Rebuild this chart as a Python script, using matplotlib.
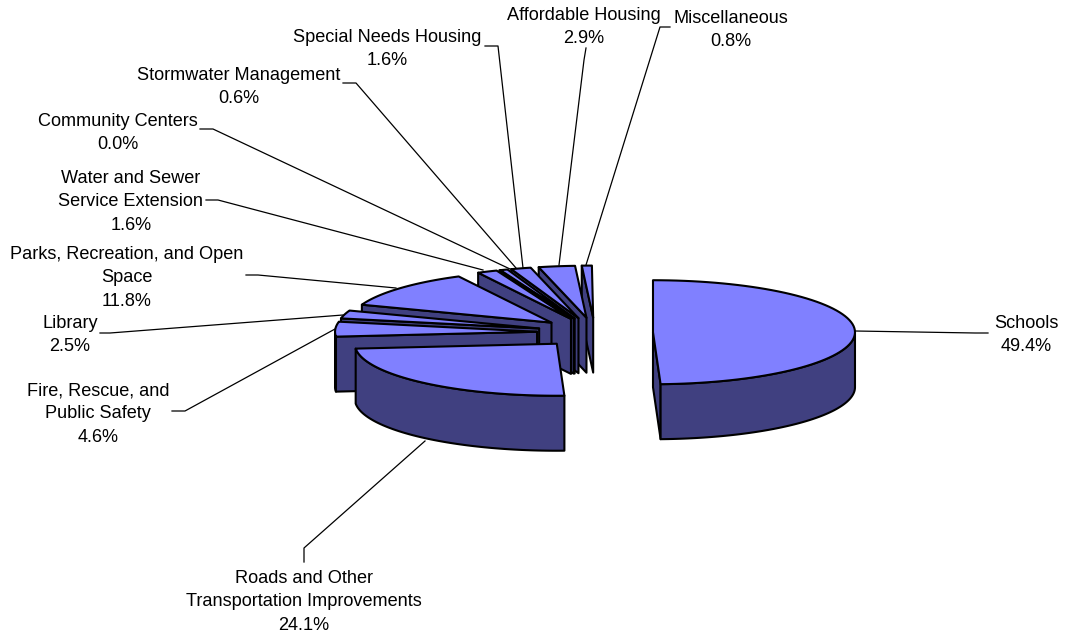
import matplotlib
matplotlib.use('Agg')
import matplotlib.pyplot as plt
from matplotlib.patches import Polygon
import numpy as np

# Slice names and shares, clockwise from 12 o'clock
categories = ['Schools', 'Roads and Other\nTransportation Improvements',
              'Fire, Rescue, and\nPublic Safety', 'Library',
              'Parks, Recreation, and Open\nSpace', 'Water and Sewer\nService Extension',
              'Community Centers', 'Stormwater Management',
              'Special Needs Housing', 'Affordable Housing', 'Miscellaneous']
shares = [49.4, 24.1, 4.6, 2.5, 11.8, 1.6, 0.0, 0.6, 1.6, 2.9, 0.8]

# Label centres and leader lines in picture pixels
label_pos = [(1026, 335), (304, 602), (98, 414), (70, 335), (127, 278), (131, 202),
             (118, 133), (239, 87), (387, 49), (584, 27), (731, 30)]
leaders = [[(855, 331), (975, 333), (988, 333)],
           [(425, 441), (304, 548), (304, 562)],
           [(335, 329), (185, 411), (172, 411)],
           [(343, 315), (110, 333), (100, 333)],
           [(396, 288), (258, 275), (246, 275)],
           [(483, 270), (218, 200), (206, 200)],
           [(510, 269), (213, 129), (200, 129)],
           [(516, 268), (356, 83), (343, 83)],
           [(523, 268), (498, 46), (485, 46)],
           [(559, 265), (584, 60), (586, 48)],
           [(586, 265), (660, 27), (670, 27)]]

top_color = '#8080FF'
side_color = '#404080'
cx, cy = 595, 332.5   # pie centre
rx, ry = 202, 52      # ellipse of the top face
depth = 55
explode = 58

plt.rcParams['font.family'] = ['Liberation Sans', 'DejaVu Sans']
fig = plt.figure(figsize=(10.65, 6.37), dpi=100)
ax = fig.add_axes([0, 0, 1, 1])
ax.set_xlim(0, 1065)
ax.set_ylim(637, 0)
ax.axis('off')


def rim(ox, oy, a):
    return np.column_stack([ox + rx * np.sin(a), oy - ry * np.cos(a)])


def add_face(pts, color):
    ax.add_patch(Polygon(pts, closed=True, facecolor=color, edgecolor='black',
                         linewidth=1.5, joinstyle='round'))


# Turn the shares into angles, then paint slices from back to front
ends = np.cumsum(shares) * 3.6
starts = ends - np.array(shares) * 3.6
mids = (starts + ends) / 2
order = np.argsort(-np.cos(np.radians(mids)))

for i in order:
    a0, a1 = np.radians(starts[i]), np.radians(ends[i])
    ox = cx + explode * np.sin((a0 + a1) / 2)
    oy = cy - explode * ry / rx * np.cos((a0 + a1) / 2)
    arc = rim(ox, oy, np.linspace(a0, a1, 80))
    tip = np.array([[ox, oy]])
    drop = np.array([0, depth])

    # radial walls that look towards the viewer
    for a, visible in ((a0, np.sin(a0) < -1e-6), (a1, np.sin(a1) > 1e-6)):
        if visible:
            p = rim(ox, oy, np.array([a]))
            add_face(np.vstack([tip, p, p + drop, tip + drop]), side_color)

    # outer skin, front half of the ellipse only
    lo, hi = max(a0, np.pi / 2), min(a1, 3 * np.pi / 2)
    if hi > lo:
        front = rim(ox, oy, np.linspace(lo, hi, 80))
        add_face(np.vstack([front, (front + drop)[::-1]]), side_color)

    add_face(np.vstack([tip, arc]), top_color)

for line in leaders:
    xs, ys = zip(*line)
    ax.plot(xs, ys, color='black', linewidth=0.9, zorder=5)

for name, val, (x, y) in zip(categories, shares, label_pos):
    ax.text(x, y, f'{name}\n{val:.1f}%', ha='center', va='center', fontsize=13.05,
            linespacing=1.47, color='black', zorder=6)

fig.savefig('out.png', dpi=100)
